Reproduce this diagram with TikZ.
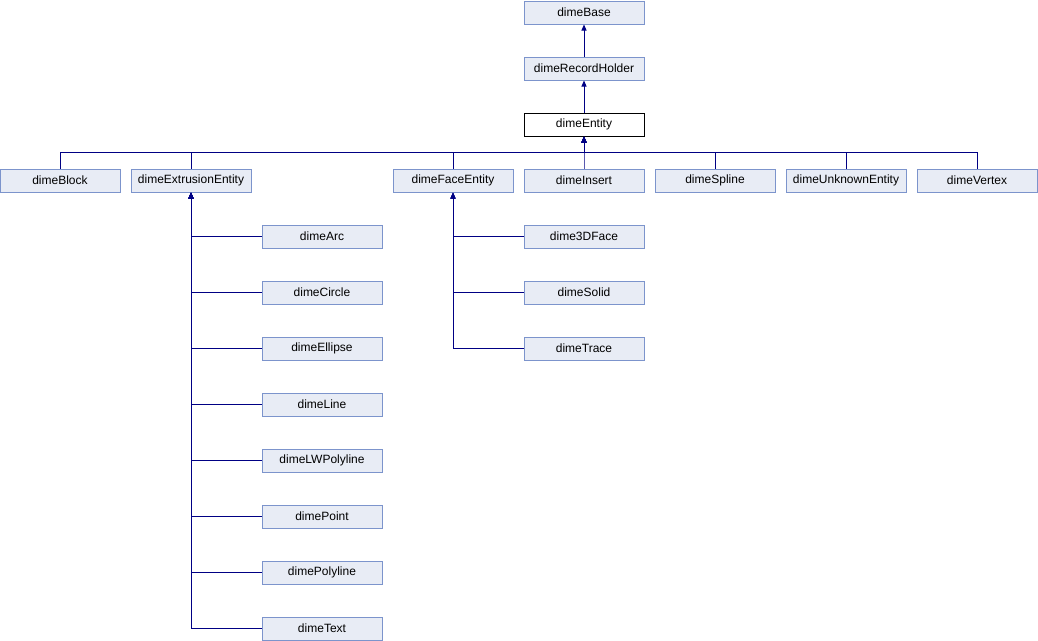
\documentclass[tikz,border=0pt]{standalone}
\usepackage{fontspec}
\setmainfont{Liberation Sans}
\usetikzlibrary{arrows.meta,positioning}
\definecolor{boxfill}{RGB}{232,236,245}
\definecolor{boxline}{RGB}{124,148,204}
\definecolor{edgeblue}{RGB}{0,0,132}
\tikzset{
    cls/.style={draw=boxline,fill=boxfill,line width=1pt,minimum width=120pt,minimum height=23pt,inner sep=0pt,font=\fontsize{12}{14}\selectfont},
    current/.style={cls,draw=black,fill=white},
    inherit/.style={draw=edgeblue,line width=1pt,-{Triangle[length=6pt,width=5pt]}}
}
\begin{document}
\begin{tikzpicture}[x=1pt,y=-1pt]
    \useasboundingbox (0,0) rectangle (1038,640);
            \node[cls] (base) at (584,12.5) {dimeBase};
            \node[cls] (holder) at (584,68.5) {dimeRecordHolder};
            \node[current] (entity) at (584,124.5) {dimeEntity};
            \coordinate (bus) at (584,152);
            % second row
            \node[cls] (block) at (60,180.5) {dimeBlock};
            \node[cls] (extrusion) at (191,180.5) {dimeExtrusionEntity};
            \node[cls] (face) at (453,180.5) {dimeFaceEntity};
            \node[cls] (insert) at (584,180.5) {dimeInsert};
            \node[cls] (spline) at (715,180.5) {dimeSpline};
            \node[cls] (unknown) at (846,180.5) {dimeUnknownEntity};
            \node[cls] (vertex) at (977,180.5) {dimeVertex};
            % children of dimeExtrusionEntity
            \foreach \name/\label [count=\i] in {arc/dimeArc,circle/dimeCircle,ellipse/dimeEllipse,line/dimeLine,lwpolyline/dimeLWPolyline,point/dimePoint,polyline/dimePolyline,text/dimeText}
                \node[cls] (\name) at (322,180.5+56*\i) {\label};
            % children of dimeFaceEntity
            \foreach \name/\label [count=\i] in {3dface/dime3DFace,solid/dimeSolid,trace/dimeTrace}
                \node[cls] (\name) at (584,180.5+56*\i) {\label};
            \draw[inherit] (holder) -- (base);
            \draw[inherit] (entity) -- (holder);
            \foreach \child in {block,extrusion,face,insert,spline,unknown,vertex}
                \draw[inherit] (\child.north) |- (bus) -- (entity.south);
            \foreach \child in {arc,circle,ellipse,line,lwpolyline,point,polyline,text}
                \draw[inherit] (\child.west) -| (extrusion.south);
            \foreach \child in {3dface,solid,trace}
                \draw[inherit] (\child.west) -| (face.south);
        \end{tikzpicture}
\end{document}
